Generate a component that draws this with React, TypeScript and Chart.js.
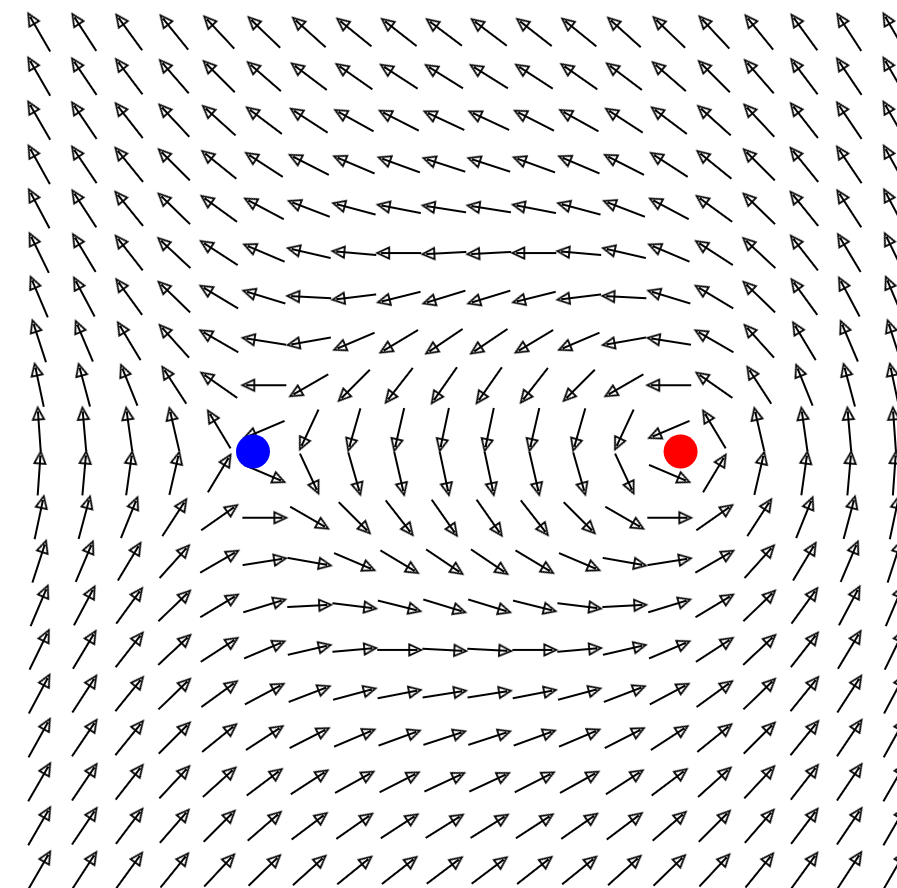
import React, { useEffect, useRef } from "react";
import { Chart, registerables } from "chart.js";

Chart.register(...registerables);

// Grid coordinates (20 x 20 grid from -2 to 2)
const XS = [-2, -1.789, -1.579, -1.368, -1.158, -0.947, -0.737, -0.526, -0.316, -0.105, 0.105, 0.316, 0.526, 0.737, 0.947, 1.158, 1.368, 1.579, 1.789, 2];
const YS = [2, 1.789, 1.579, 1.368, 1.158, 0.947, 0.737, 0.526, 0.316, 0.105, -0.105, -0.316, -0.526, -0.737, -0.947, -1.158, -1.368, -1.579, -1.789, -2];

// Arrow directions in degrees (counter-clockwise from +x), one row per YS value
const ANGLES: number[][] = [
  [120, 123, 126, 129, 133, 136, 138, 141, 142, 143, 143, 142, 141, 138, 136, 133, 129, 126, 123, 120],
  [120, 124, 127, 131, 135, 139, 143, 145, 147, 148, 148, 147, 145, 143, 139, 135, 131, 127, 124, 120],
  [120, 124, 128, 133, 138, 143, 147, 151, 153, 155, 155, 153, 151, 147, 143, 138, 133, 128, 124, 120],
  [119, 124, 129, 135, 141, 147, 153, 157, 160, 162, 162, 160, 157, 153, 147, 141, 135, 129, 124, 119],
  [118, 123, 129, 136, 144, 152, 159, 165, 169, 171, 171, 169, 165, 159, 152, 144, 136, 129, 123, 118],
  [116, 121, 128, 137, 147, 157, 167, 175, -180, -177, -177, -180, 175, 167, 157, 147, 137, 128, 121, 116],
  [113, 118, 126, 136, 149, 163, 177, -173, -166, -163, -163, -166, -173, 177, 163, 149, 136, 126, 118, 113],
  [108, 113, 121, 132, 150, 171, -170, -157, -149, -146, -146, -149, -157, -170, 171, 150, 132, 121, 113, 108],
  [102, 105, 112, 123, 145, -180, -150, -135, -128, -125, -125, -128, -135, -150, -180, 145, 123, 112, 105, 102],
  [94, 95, 98, 103, 121, -157, -115, -106, -103, -102, -102, -103, -106, -115, -157, 121, 103, 98, 95, 94],
  [86, 85, 82, 77, 59, -23, -65, -74, -77, -78, -78, -77, -74, -65, -23, 59, 77, 82, 85, 86],
  [78, 75, 68, 57, 35, 0, -30, -45, -52, -55, -55, -52, -45, -30, 0, 35, 57, 68, 75, 78],
  [72, 67, 59, 48, 30, 9, -10, -23, -31, -34, -34, -31, -23, -10, 9, 30, 48, 59, 67, 72],
  [67, 62, 54, 44, 31, 17, 3, -7, -14, -17, -17, -14, -7, 3, 17, 31, 44, 54, 62, 67],
  [64, 59, 52, 43, 33, 23, 13, 5, 0, -3, -3, 0, 5, 13, 23, 33, 43, 52, 59, 64],
  [62, 57, 51, 44, 36, 28, 21, 15, 11, 9, 9, 11, 15, 21, 28, 36, 44, 51, 57, 62],
  [61, 56, 51, 45, 39, 33, 27, 23, 20, 18, 18, 20, 23, 27, 33, 39, 45, 51, 56, 61],
  [60, 56, 52, 47, 42, 37, 33, 29, 27, 25, 25, 27, 29, 33, 37, 42, 47, 52, 56, 60],
  [60, 56, 53, 49, 45, 41, 37, 35, 33, 32, 32, 33, 35, 37, 41, 45, 49, 53, 56, 60],
  [60, 57, 54, 51, 47, 44, 42, 39, 38, 37, 37, 38, 39, 42, 44, 47, 51, 54, 57, 60],
];

// The two marked points
const CHARGE_X = [-1, 1];
const CHARGE_Y = [0, 0];
const CHARGE_COLORS = ["#0000ff", "#ff0000"];

function makeArrowCanvas(): HTMLCanvasElement {
  const S = 54;
  const cv = document.createElement("canvas");
  cv.width = S;
  cv.height = S;
  const g = cv.getContext("2d")!;
  const c = S / 2;
  const L = 44;
  const tail = c - L / 2;
  const tip = c + L / 2;
  const hl = 12;
  const hw = 5.5;
  g.strokeStyle = "#000";
  g.lineWidth = 2;
  g.beginPath();
  g.moveTo(tail, c);
  g.lineTo(tip - 4, c);
  g.stroke();
  g.lineWidth = 1.8;
  g.lineJoin = "miter";
  g.beginPath();
  g.moveTo(tip, c);
  g.lineTo(tip - hl, c - hw);
  g.lineTo(tip - hl, c + hw);
  g.closePath();
  g.stroke();
  return cv;
}

export default function App() {
  const ref = useRef<HTMLCanvasElement | null>(null);

  useEffect(() => {
    if (!ref.current) return;
    const arrow = makeArrowCanvas();
    const points: { x: number; y: number }[] = [];
    const rotations: number[] = [];
    YS.forEach((y, j) => {
      XS.forEach((x, i) => {
        points.push({ x, y });
        rotations.push(-ANGLES[j][i]);
      });
    });
    const chart = new Chart(ref.current, {
      type: "scatter",
      data: {
        datasets: [
          {
            data: CHARGE_X.map((x, k) => ({ x, y: CHARGE_Y[k] })),
            pointRadius: 17,
            pointBackgroundColor: CHARGE_COLORS,
            pointBorderWidth: 0,
            pointBorderColor: CHARGE_COLORS,
          },
          {
            data: points,
            pointStyle: arrow as any,
            pointRadius: 3,
            pointRotation: rotations,
          },
        ],
      },
      options: {
        animation: false,
        responsive: false,
        events: [],
        layout: { padding: 0, autoPadding: false },
        plugins: { legend: { display: false }, tooltip: { enabled: false } },
        scales: {
          x: { type: "linear", display: false, bounds: "data", min: -2.1833, max: 2.0122 },
          y: { type: "linear", display: false, bounds: "data", min: -2.0836, max: 2.1551 },
        },
      },
    });
    return () => chart.destroy();
  }, []);

  return (
    <div style={{ position: "fixed", left: 0, top: 0, width: 897, height: 888, background: "#fff" }}>
      <canvas ref={ref} width={897} height={888} style={{ display: "block" }} />
    </div>
  );
}
